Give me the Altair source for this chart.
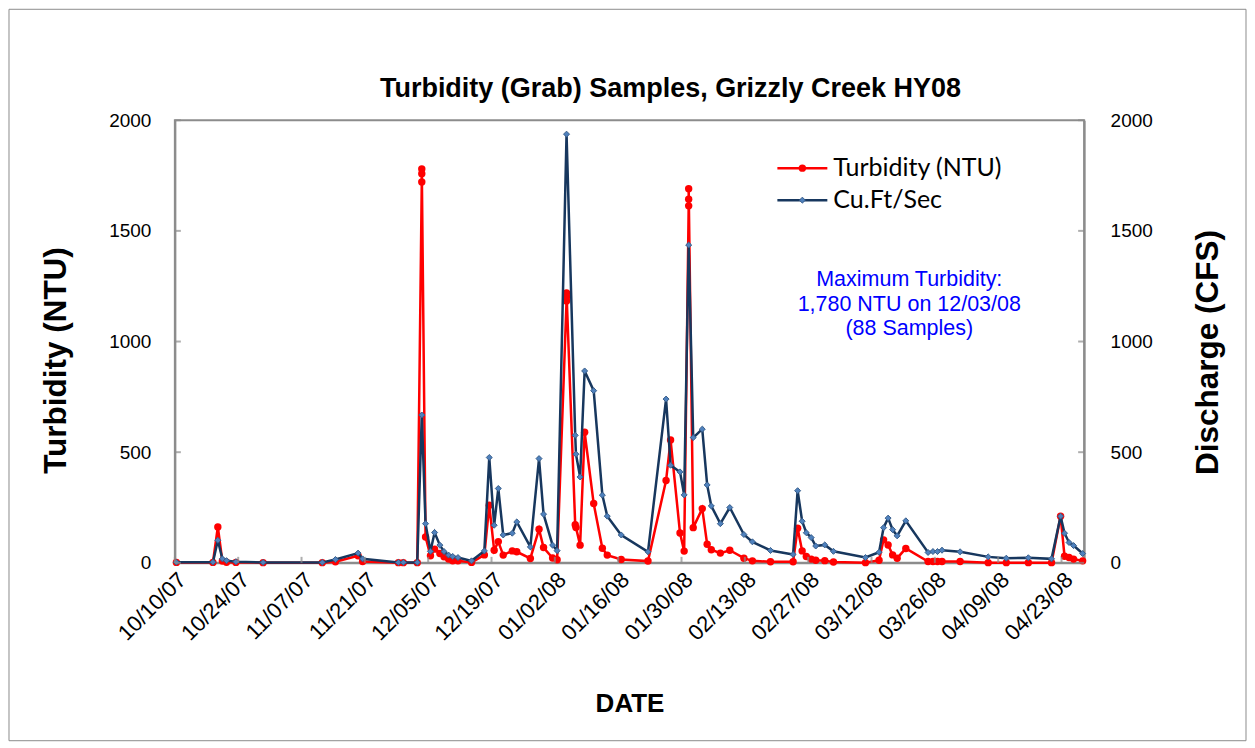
import altair as alt
import pandas as pd

# ---------------- data ----------------
turb_time = [
    "2007-10-10T08:00", "2007-10-18T10:00", "2007-10-19T12:00", "2007-10-20T12:00", "2007-10-21T10:00",
    "2007-10-23T12:00", "2007-10-29T12:00", "2007-11-11T14:00", "2007-11-14T12:00", "2007-11-19T12:00",
    "2007-11-20T12:00", "2007-11-28T10:00", "2007-11-29T12:00", "2007-12-02T14:00",
    "2007-12-03T14:00", "2007-12-03T14:00", "2007-12-03T14:00",
    "2007-12-04T10:00", "2007-12-05T12:00", "2007-12-06T10:00", "2007-12-07T14:00", "2007-12-08T12:00",
    "2007-12-09T12:00", "2007-12-10T10:00", "2007-12-11T14:00", "2007-12-14T14:00", "2007-12-17T10:00",
    "2007-12-18T12:00", "2007-12-19T14:00", "2007-12-20T12:00", "2007-12-21T14:00", "2007-12-23T14:00",
    "2007-12-24T14:00", "2007-12-27T14:00", "2007-12-29T12:00", "2007-12-30T12:00", "2008-01-01T12:00",
    "2008-01-02T12:00",
    "2008-01-04T14:00", "2008-01-04T14:00", "2008-01-04T14:00",
    "2008-01-06T12:00", "2008-01-06T16:00", "2008-01-07T14:00", "2008-01-08T14:00", "2008-01-10T14:00",
    "2008-01-12T12:00", "2008-01-13T14:00", "2008-01-16T16:00", "2008-01-22T14:00", "2008-01-26T14:00",
    "2008-01-27T14:00", "2008-01-29T16:00", "2008-01-30T14:00",
    "2008-01-31T14:00", "2008-01-31T14:00", "2008-01-31T14:00",
    "2008-02-01T14:00", "2008-02-03T14:00", "2008-02-04T16:00", "2008-02-05T14:00", "2008-02-07T14:00",
    "2008-02-09T16:00", "2008-02-12T19:00", "2008-02-14T16:00", "2008-02-18T16:00", "2008-02-23T16:00",
    "2008-02-24T16:00", "2008-02-25T16:00", "2008-02-26T14:00", "2008-02-27T16:00", "2008-02-28T16:00",
    "2008-03-01T16:00", "2008-03-03T14:00", "2008-03-10T16:00", "2008-03-13T16:00", "2008-03-14T16:00",
    "2008-03-15T16:00", "2008-03-16T16:00", "2008-03-17T16:00", "2008-03-19T14:00", "2008-03-24T12:00",
    "2008-03-25T14:00", "2008-03-26T14:00", "2008-03-27T14:00", "2008-03-31T14:00", "2008-04-06T19:00",
    "2008-04-10T19:00", "2008-04-15T16:00", "2008-04-20T19:00", "2008-04-22T19:00", "2008-04-23T16:00",
    "2008-04-24T16:00", "2008-04-25T16:00", "2008-04-27T16:00",
]
turb_ntu = [
    2, 2, 162, 8, 3,
    2, 1, 1, 5, 32,
    6, 1, 1, 1,
    1721, 1758, 1780,
    117, 32, 62, 42, 27,
    17, 9, 9, 2, 36,
    260, 57, 96, 35, 54,
    50, 20, 152, 69, 22,
    14,
    1183, 1201, 1219,
    172, 160, 80, 590, 268,
    66, 35, 15, 8, 372,
    555, 135, 53,
    1613, 1643, 1690,
    159, 245, 84, 59, 44,
    57, 21, 9, 5, 5,
    156, 54, 29, 17, 12,
    10, 4, 1, 12, 104,
    81, 36, 21, 65, 6,
    6, 6, 6, 6, 1,
    1, 1, 1, 211, 30,
    24, 17, 9,
]

flow_time = [
    "2007-10-10T08:00", "2007-10-18T10:00", "2007-10-19T12:00", "2007-10-20T12:00", "2007-10-21T10:00",
    "2007-10-23T12:00", "2007-10-29T12:00", "2007-11-11T14:00", "2007-11-14T12:00", "2007-11-19T12:00",
    "2007-11-20T12:00", "2007-11-28T10:00", "2007-11-29T12:00", "2007-12-02T14:00", "2007-12-03T14:00",
    "2007-12-04T10:00", "2007-12-05T12:00", "2007-12-06T10:00", "2007-12-07T14:00", "2007-12-08T12:00",
    "2007-12-09T12:00", "2007-12-10T10:00", "2007-12-11T14:00", "2007-12-14T14:00", "2007-12-17T10:00",
    "2007-12-18T12:00", "2007-12-19T14:00", "2007-12-20T12:00", "2007-12-21T14:00", "2007-12-23T14:00",
    "2007-12-24T14:00", "2007-12-27T14:00", "2007-12-29T12:00", "2007-12-30T12:00", "2008-01-01T12:00",
    "2008-01-02T12:00", "2008-01-04T14:00", "2008-01-06T12:00", "2008-01-06T16:00", "2008-01-07T14:00",
    "2008-01-08T14:00", "2008-01-10T14:00", "2008-01-12T12:00", "2008-01-13T14:00", "2008-01-16T16:00",
    "2008-01-22T14:00", "2008-01-26T14:00", "2008-01-27T14:00", "2008-01-29T16:00", "2008-01-30T14:00",
    "2008-01-31T14:00", "2008-02-01T14:00", "2008-02-03T14:00", "2008-02-04T16:00", "2008-02-05T14:00",
    "2008-02-07T14:00", "2008-02-09T16:00", "2008-02-12T19:00", "2008-02-14T16:00", "2008-02-18T16:00",
    "2008-02-23T16:00", "2008-02-24T16:00", "2008-02-25T16:00", "2008-02-26T14:00", "2008-02-27T16:00",
    "2008-02-28T16:00", "2008-03-01T16:00", "2008-03-03T14:00", "2008-03-10T16:00", "2008-03-13T16:00",
    "2008-03-14T16:00", "2008-03-15T16:00", "2008-03-16T16:00", "2008-03-17T16:00", "2008-03-19T14:00",
    "2008-03-24T12:00", "2008-03-25T14:00", "2008-03-26T14:00", "2008-03-27T14:00", "2008-03-31T14:00",
    "2008-04-06T19:00", "2008-04-10T19:00", "2008-04-15T16:00", "2008-04-20T19:00", "2008-04-22T19:00",
    "2008-04-23T16:00", "2008-04-24T16:00", "2008-04-25T16:00", "2008-04-27T16:00",
]
flow_cfs = [
    3, 3, 102, 18, 10,
    5, 2, 2, 15, 44,
    18, 2, 2, 2, 668,
    177, 52, 137, 80, 51,
    35, 29, 24, 9, 54,
    476, 170, 336, 126, 134,
    185, 72, 471, 220, 80,
    55, 1937, 576, 491, 388,
    867, 778, 306, 211, 126,
    50, 740, 441, 411, 307,
    1436, 566, 604, 352, 257,
    177, 250, 128, 95, 56,
    38, 326, 188, 136, 114,
    76, 81, 52, 24, 48,
    159, 202, 150, 122, 190,
    47, 51, 51, 57, 50,
    27, 21, 23, 18, 211,
    134, 92, 78, 42,
]

tick_dates = [
    "2007-10-10T00:00", "2007-10-24T00:00", "2007-11-07T00:00", "2007-11-21T00:00", "2007-12-05T00:00",
    "2007-12-19T00:00", "2008-01-02T00:00", "2008-01-16T00:00", "2008-01-30T00:00", "2008-02-13T00:00",
    "2008-02-27T00:00", "2008-03-12T00:00", "2008-03-26T00:00", "2008-04-09T00:00", "2008-04-23T00:00",
]
y_ticks = [0, 500, 1000, 1500, 2000]
series_names = ["Turbidity (NTU)", "Cu.Ft/Sec"]
chart_title = "Turbidity (Grab) Samples, Grizzly Creek HY08"
note_lines = ["Maximum Turbidity:", "1,780 NTU on 12/03/08", "(88 Samples)"]

# ---------------- styling ----------------
W, H = 910, 443
RED = "#FF0000"
NAVY = "#17375E"
DIAMOND = "#4F81BD"
GRAY = "#8C8C8C"
ARIAL = "Liberation Sans"
CALIBRI = "Lato"

turb_df = pd.DataFrame({"t": turb_time, "v": turb_ntu, "i": range(len(turb_ntu))})
flow_df = pd.DataFrame({"t": flow_time, "v": flow_cfs, "i": range(len(flow_cfs))})
xtick_df = pd.DataFrame({"t": tick_dates})
ytick_df = pd.DataFrame({"v": y_ticks})

x_scale = alt.Scale(
    domain=[alt.DateTime(year=2007, month=10, date=10), alt.DateTime(year=2008, month=4, date=28)],
    nice=False,
)
y_scale = alt.Scale(domain=[0, 2000], nice=False)

x_axis = alt.Axis(
    values=[alt.DateTime(year=int(d[0:4]), month=int(d[5:7]), date=int(d[8:10])) for d in tick_dates],
    format="%m/%d/%y", labelAngle=-45, labelFont=ARIAL, labelFontSize=22, labelColor="black",
    labelPadding=6, ticks=False, grid=False, domainColor=GRAY, domainWidth=2,
    title="DATE", titleFont=ARIAL, titleFontSize=26, titleFontWeight="bold", titleColor="black",
    titlePadding=46, labelOverlap=False, labelFlush=False,
)
left_axis = alt.Axis(
    orient="left", values=y_ticks, format="d", labelFont=ARIAL, labelFontSize=19, labelColor="black",
    labelPadding=24, ticks=False, grid=False, domainColor=GRAY, domainWidth=2,
    title="Turbidity (NTU)", titleFont=ARIAL, titleFontSize=31.5, titleFontWeight="bold",
    titleColor="black", titlePadding=36, titleY=240,
)
right_axis = alt.Axis(
    orient="right", values=y_ticks, format="d", labelFont=ARIAL, labelFontSize=19, labelColor="black",
    labelPadding=26, ticks=False, grid=False, domainColor=GRAY, domainWidth=2,
    title="Discharge (CFS)", titleFont=ARIAL, titleFontSize=31.5, titleFontWeight="bold",
    titleColor="black", titlePadding=72, titleAngle=270, titleY=232,
)

X = alt.X("t:T", scale=x_scale, axis=x_axis)

turb_line = alt.Chart(turb_df).mark_line(color=RED, strokeWidth=2.5).encode(
    x=X, y=alt.Y("v:Q", scale=y_scale, axis=left_axis), order="i:Q",
)
turb_pts = alt.Chart(turb_df).mark_point(
    shape="circle", filled=True, color=RED, size=55, opacity=1
).encode(x=X, y=alt.Y("v:Q", scale=y_scale, axis=None))
flow_line = alt.Chart(flow_df).mark_line(color=NAVY, strokeWidth=2.5).encode(
    x=X, y=alt.Y("v:Q", scale=y_scale, axis=right_axis), order="i:Q",
)
flow_pts = alt.Chart(flow_df).mark_point(
    shape="diamond", filled=True, fill=DIAMOND, stroke="#385D8A", strokeWidth=1, size=36, opacity=1
).encode(x=X, y=alt.Y("v:Q", scale=y_scale, axis=None))

# inside tick marks (Excel style)
ytick_left = alt.Chart(ytick_df).mark_tick(color=GRAY, size=6, thickness=2).encode(
    y=alt.Y("v:Q", scale=y_scale, axis=None), x=alt.value(3)
)
ytick_right = alt.Chart(ytick_df).mark_tick(color=GRAY, size=6, thickness=2).encode(
    y=alt.Y("v:Q", scale=y_scale, axis=None), x=alt.value(W - 3)
)
xtick = alt.Chart(xtick_df).mark_tick(color=GRAY, size=6, thickness=2).encode(
    x=X, y=alt.value(H - 3)
)

# chart title
title_df = pd.DataFrame({"s": [chart_title]})
title_mark = alt.Chart(title_df).mark_text(
    font=ARIAL, fontSize=27, fontWeight="bold", color="black", align="center", baseline="middle"
).encode(text="s:N", x=alt.value(496), y=alt.value(-31))

# annotation
note_df = pd.DataFrame({"s": [note_lines]})
note_mark = alt.Chart(note_df).mark_text(
    font=ARIAL, fontSize=21.5, color="#0000FF", align="center", baseline="middle", lineHeight=24.5
).encode(text="s:N", x=alt.value(735), y=alt.value(160))

# legend (drawn inside plot, Excel style)
leg_x0, leg_x1, leg_y0, leg_dy = 603, 653, 48, 32
leg_df = pd.DataFrame({"s": series_names})
leg_red_line = alt.Chart(leg_df.iloc[[0]]).mark_rule(color=RED, strokeWidth=2.5).encode(
    x=alt.value(leg_x0), x2=alt.value(leg_x1), y=alt.value(leg_y0)
)
leg_red_pt = alt.Chart(leg_df.iloc[[0]]).mark_point(
    shape="circle", filled=True, color=RED, size=55, opacity=1
).encode(x=alt.value((leg_x0 + leg_x1) / 2), y=alt.value(leg_y0))
leg_blue_line = alt.Chart(leg_df.iloc[[1]]).mark_rule(color=NAVY, strokeWidth=2.5).encode(
    x=alt.value(leg_x0), x2=alt.value(leg_x1), y=alt.value(leg_y0 + leg_dy)
)
leg_blue_pt = alt.Chart(leg_df.iloc[[1]]).mark_point(
    shape="diamond", filled=True, fill=DIAMOND, stroke="#385D8A", strokeWidth=1, size=36, opacity=1
).encode(x=alt.value((leg_x0 + leg_x1) / 2), y=alt.value(leg_y0 + leg_dy))
leg_text = alt.Chart(leg_df).mark_text(
    font=CALIBRI, fontSize=25, color="black", align="left", baseline="middle"
).transform_window(r="row_number()").transform_calculate(
    yy=f"{leg_y0} + (datum.r - 1) * {leg_dy}"
).encode(text="s:N", x=alt.value(leg_x1 + 6), y=alt.Y("yy:Q", scale=None, axis=None))

# outer chart border
border_df = pd.DataFrame({"s": ["border"]})
border = alt.Chart(border_df).mark_rect(fill=None, stroke=GRAY, strokeWidth=1).encode(
    x=alt.value(-166), x2=alt.value(1072), y=alt.value(-111), y2=alt.value(621)
)

chart = alt.layer(
    turb_line, border, turb_pts, flow_line, flow_pts,
    ytick_left, ytick_right, xtick, title_mark, note_mark,
    leg_red_line, leg_red_pt, leg_blue_line, leg_blue_pt, leg_text,
).resolve_scale(y="independent").properties(
    width=W, height=H, background="white", padding=0
).configure_view(stroke=GRAY, strokeWidth=2)

chart.save("out.html", embed_options={"renderer": "svg", "actions": False})
